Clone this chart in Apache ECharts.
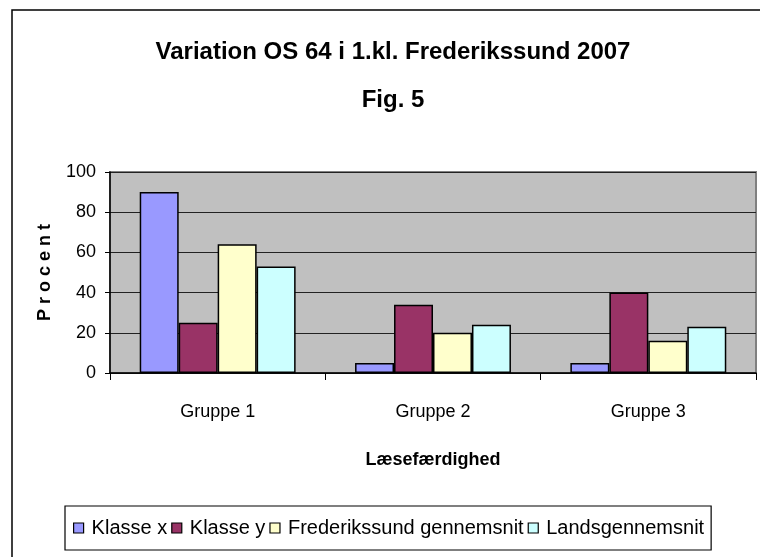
<!DOCTYPE html>
<html><head><meta charset="utf-8">
<script src="https://cdn.jsdelivr.net/npm/echarts@6/dist/echarts.min.js"></script>
<style>html,body{margin:0;padding:0;background:#fff}#c{width:760px;height:557px}</style>
</head><body><div id="c"></div>
<script>
const categories = ['Gruppe 1', 'Gruppe 2', 'Gruppe 3'];
const seriesNames = ['Klasse x', 'Klasse y', 'Frederikssund gennemsnit', 'Landsgennemsnit'];
const klasseX = [90, 5, 5];
const klasseY = [25, 34, 40];
const frederikssund = [64, 20, 16];
const lands = [53, 24, 23];
const colors = ['#9999FF', '#993366', '#FFFFCC', '#CCFFFF'];
const yTicks = [0, 20, 40, 60, 80, 100];

const FONT = '"Liberation Sans", Arial, sans-serif';
const chart = echarts.init(document.getElementById('c'), null, {renderer: 'canvas'});
const values = [klasseX, klasseY, frederikssund, lands];
chart.setOption({
  animation: false,
  backgroundColor: '#fff',
  textStyle: {fontFamily: FONT, color: '#000'},
  title: [
    {text: 'Variation OS 64 i 1.kl. Frederikssund 2007', left: 388, top: 35, textAlign: 'center',
     textStyle: {fontFamily: FONT, fontSize: 24, fontWeight: 'bold', color: '#000'}},
    {text: 'Fig. 5', left: 388, top: 83, textAlign: 'center',
     textStyle: {fontFamily: FONT, fontSize: 24, fontWeight: 'bold', color: '#000'}}
  ],
  graphic: [
    {type: 'rect', left: 9.5, top: 7.5, shape: {width: 900, height: 700}, silent: true,
     style: {fill: 'none', stroke: '#000', lineWidth: 1.5}, z: 100}
  ],
  grid: {left: 110, right: 4, top: 172, bottom: 184, show: true, backgroundColor: '#C0C0C0',
         borderColor: '#808080', borderWidth: 2},
  legend: {
    data: seriesNames, left: 65, top: 506,
    itemWidth: 10, itemHeight: 10, itemGap: 4,
    padding: [12, 7, 12, 8],
    borderColor: '#000', borderWidth: 1.2, backgroundColor: '#fff',
    icon: 'rect',
    itemStyle: {borderColor: '#000', borderWidth: 1.2},
    textStyle: {fontFamily: FONT, fontSize: 20, color: '#000', padding: [0, 0, 0, 3]}
  },
  xAxis: {
    type: 'category', data: categories,
    name: 'Læsefærdighed', nameLocation: 'middle', nameGap: 78,
    nameTextStyle: {fontFamily: FONT, fontSize: 18, fontWeight: 'bold', color: '#000'},
    axisLine: {lineStyle: {color: '#000', width: 1.5}},
    axisTick: {show: true, alignWithLabel: false, length: 7, lineStyle: {color: '#000'}},
    axisLabel: {fontFamily: FONT, fontSize: 18, color: '#000', margin: 30},
    splitLine: {show: false}
  },
  yAxis: {
    type: 'value', min: yTicks[0], max: yTicks[yTicks.length - 1], interval: 20,
    name: 'P r o c e n t', nameLocation: 'middle', nameGap: 56, nameRotate: 90,
    nameTextStyle: {fontFamily: FONT, fontSize: 18, fontWeight: 'bold', color: '#000'},
    axisLine: {show: true, lineStyle: {color: '#000', width: 1.5}},
    axisTick: {show: true, length: 5, lineStyle: {color: '#000'}},
    axisLabel: {fontFamily: FONT, fontSize: 18, color: '#000', margin: 14},
    splitLine: {show: true, lineStyle: {color: '#222', width: 1.2}}
  },
  series: seriesNames.map((n, i) => ({
    name: n, type: 'bar', data: values[i],
    barGap: '0%', barCategoryGap: '27.6%',
    itemStyle: {color: colors[i], borderColor: '#000', borderWidth: 1.5}
  }))
});
</script></body></html>
